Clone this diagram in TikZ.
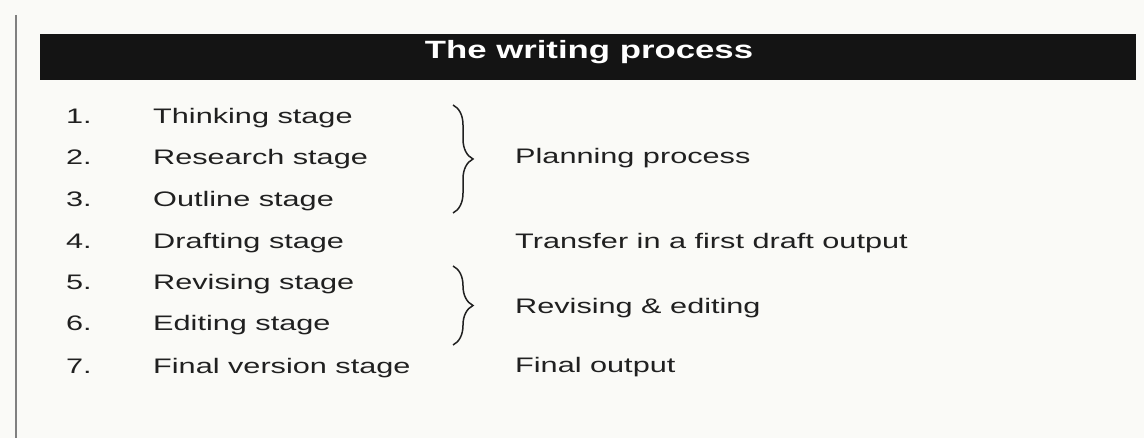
\documentclass[tikz,border=0pt]{standalone}
\usepackage{fontspec}
\setmainfont{Liberation Sans}
\newfontfamily\bodyfont[FakeStretch=1.46]{Liberation Sans}
\newfontfamily\titlefont[FakeStretch=1.39]{Liberation Sans}
\usetikzlibrary{decorations.pathreplacing}
\definecolor{paper}{RGB}{250,250,247}
\definecolor{ink}{RGB}{32,32,32}
\definecolor{barfill}{RGB}{20,20,20}
\begin{document}
\begin{tikzpicture}[x=1pt,y=-1pt,
  lbl/.style={anchor=base west, inner sep=0pt, text=ink, font=\bodyfont\fontsize{21}{25}\selectfont},
  bracestyle/.style={decorate, decoration={brace, amplitude=20pt}, line width=1.5pt, draw=ink},
  titlebar/.style={fill=barfill, draw=none, anchor=north west, inner sep=0pt, minimum width=1096pt, minimum height=46pt},
  titletext/.style={anchor=base, inner sep=0pt, text=white, font=\titlefont\bfseries\fontsize{25}{29}\selectfont},
  rule/.style={draw=gray, line width=1.2pt}]
\fill[paper] (0,0) rectangle (1144,438);
\useasboundingbox (0,0) rectangle (1144,438);
% left margin rule
\coordinate (ltop) at (16,15);
\coordinate (lbot) at (16,438);
\draw[rule] (ltop) -- (lbot);
% title bar
\node[titlebar] (bar) at (40,34) {};
\node[titletext] (title) at (589,59) {The writing process};
% numbers
\node[lbl] (n1) at (66,124) {1.};
\node[lbl] (n2) at (66,165) {2.};
\node[lbl] (n3) at (66,207) {3.};
\node[lbl] (n4) at (66,249) {4.};
\node[lbl] (n5) at (66,290) {5.};
\node[lbl] (n6) at (66,331) {6.};
\node[lbl] (n7) at (66,374) {7.};
% stages
\node[lbl] (s1) at (153,124) {Thinking stage};
\node[lbl] (s2) at (153,165) {Research stage};
\node[lbl] (s3) at (153,207) {Outline stage};
\node[lbl] (s4) at (153,249) {Drafting stage};
\node[lbl] (s5) at (153,290) {Revising stage};
\node[lbl] (s6) at (153,331) {Editing stage};
\node[lbl] (s7) at (153,374) {Final version stage};
% results
\node[lbl] (r1) at (515,164) {Planning process};
\node[lbl] (r2) at (515,249) {Transfer in a first draft output};
\node[lbl] (r3) at (515,314) {Revising \& editing};
\node[lbl] (r4) at (515,373) {Final output};
% braces
\coordinate (b1t) at (453,105);
\coordinate (b1b) at (453,213);
\coordinate (b2t) at (453,266);
\coordinate (b2b) at (453,345);
\draw[bracestyle] (b1t) -- (b1b);
\draw[bracestyle] (b2t) -- (b2b);
\end{tikzpicture}
\end{document}
